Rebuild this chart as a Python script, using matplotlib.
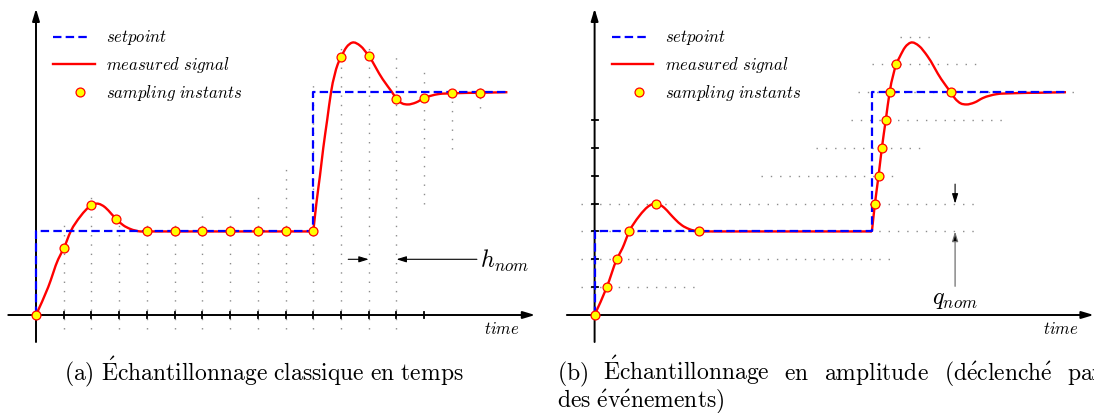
import numpy as np
import matplotlib
matplotlib.use('Agg')
import matplotlib.pyplot as plt
from matplotlib.path import Path
from matplotlib.patches import PathPatch

plt.rcParams['mathtext.fontset'] = 'cm'

W, H = 1094, 414
SX, SY = 27.73, 27.85      # pixels per time unit / per quantum

# consigne
setpoint_t = [0, 0, 10, 10, 17]
setpoint_v = [0, 3, 3, 8, 8]

# signal mesure : deux morceaux lisses raccordes au saut de consigne
rise1_t = [0, 0.44, 0.8, 1.0, 1.25, 1.6, 2.0, 2.2, 2.5, 2.72, 2.9, 3.15, 3.4, 3.76,
           4, 5, 6, 7, 8, 9, 10]
rise1_v = [0, 1, 2, 2.39, 3, 3.54, 3.94, 4.0, 3.86, 3.63, 3.44, 3.22, 3.09, 3.0,
           3, 3, 3, 3, 3, 3, 3]
rise2_t = [10, 10.11, 10.24, 10.36, 10.5, 10.64, 10.88, 11.0, 11.2, 11.4, 11.7,
           12.0, 12.5, 12.84, 13.0, 13.2, 13.4, 13.7, 14.0, 14.5, 15.0, 16.0, 17.0]
rise2_v = [3, 4, 5, 6, 7, 8, 9, 9.26, 9.62, 9.78, 9.66,
           9.3, 8.47, 8.0, 7.77, 7.6, 7.56, 7.63, 7.79, 7.93, 7.96, 7.98, 8.0]

# (a) echantillonnage periodique
samples_a_t = [0, 1, 2, 2.9, 4, 5, 6, 7, 8, 9, 10, 11, 12, 13, 14, 15, 16]
samples_a_v = [0, 2.39, 3.94, 3.44, 3, 3, 3, 3, 3, 3, 3, 9.26, 9.3, 7.77, 7.79, 7.96, 7.98]
ticks_a = list(range(1, 15))
grid_a_t = list(range(1, 17))
grid_a_top = [3.3, 4.3, 3.4, 3.3, 3.3, 3.7, 3.6, 4.3, 5.5, 8.35, 9.8, 9.8, 9.4, 8.8, 8.3, 8.3]
grid_a_bottom = [-0.5] * 13 + [4.0, 5.95, 7.45]

# (b) echantillonnage en amplitude
samples_b_t = [0, 0.44, 0.8, 1.25, 2.2, 3.76, 10.11, 10.24, 10.36, 10.5, 10.64, 10.88, 12.84]
samples_b_v = [0, 1, 2, 3, 4, 3, 4, 5, 6, 7, 8, 9, 8]
ticks_b = list(range(1, 8))
levels_b = list(range(1, 11))
level_start = [-0.5, -0.5, -0.5, -0.5, 6.0, 8.0, 9.25, 9.5, 10.0, 11.0]
level_end = [3.8, 10.8, 13.8, 13.8, 10.8, 11.85, 14.8, 17.3, 13.8, 12.35]

RED, BLUE, YELLOW = '#ff0000', '#0000ff', '#ffff00'
DOT = dict(color='#8c8c8c', lw=1.0, dashes=(1.0, 5.7), zorder=1)
MARK = dict(ms=6.4, mfc=YELLOW, mec=RED, mew=0.9)


def smooth_path(t, v):
    t = np.asarray(t, float)
    v = np.asarray(v, float)
    m = np.gradient(v, t)
    verts = [(t[0], v[0])]
    codes = [Path.MOVETO]
    for i in range(len(t) - 1):
        d = (t[i + 1] - t[i]) / 3
        verts += [(t[i] + d, v[i] + m[i] * d),
                  (t[i + 1] - d, v[i + 1] - m[i + 1] * d),
                  (t[i + 1], v[i + 1])]
        codes += [Path.CURVE4] * 3
    return Path(verts, codes)


def panel(fig, x0, y0=316, xlim=(-1.4, 18.4), ylim=(-1.3, 11.4)):
    left, right = x0 + xlim[0] * SX, x0 + xlim[1] * SX
    top, bottom = y0 - ylim[1] * SY, y0 - ylim[0] * SY
    ax = fig.add_axes([left / W, 1 - bottom / H, (right - left) / W, (bottom - top) / H])
    ax.set_xlim(xlim)
    ax.set_ylim(ylim)
    ax.axis('off')
    return ax


def arrow(ax, start, end, ms=12, hl=0.6, hw=0.18, lw=1.4, ec='black', fc='black'):
    ax.annotate('', xy=end, xytext=start, annotation_clip=False,
                arrowprops=dict(arrowstyle='-|>,head_length=%g,head_width=%g' % (hl, hw),
                                mutation_scale=ms, lw=lw, ec=ec, fc=fc,
                                shrinkA=0, shrinkB=0))


def draw_common(ax, samples_t, samples_v):
    arrow(ax, (-1.0, 0), (18.0, 0))
    arrow(ax, (0, -0.97), (0, 11.0))
    ax.add_patch(PathPatch(smooth_path(rise1_t, rise1_v), fill=False, ec=RED, lw=1.7, zorder=3))
    ax.add_patch(PathPatch(smooth_path(rise2_t, rise2_v), fill=False, ec=RED, lw=1.7, zorder=3))
    ax.plot(setpoint_t, setpoint_v, color=BLUE, lw=1.6, dashes=(3.8, 1.9), zorder=4)
    ax.plot(samples_t, samples_v, 'o', zorder=5, **MARK)

    # legende
    ax.plot([0.62, 1.9], [10, 10], color=BLUE, lw=1.6, dashes=(3.8, 1.9))
    ax.plot([0.62, 2.12], [9, 9], color=RED, lw=1.7)
    ax.plot([1.6], [8], 'o', **MARK)
    for row, label in zip([10, 9, 8], [r'$\mathit{setpoint}$', r'$\mathit{measured\ signal}$',
                                       r'$\mathit{sampling\ instants}$']):
        ax.text(2.53, row - 0.17, label, fontsize=12, va='baseline', ha='left')
    ax.text(16.8, -0.63, r'$\mathit{time}$', fontsize=12, va='baseline', ha='center')


fig = plt.figure(figsize=(W / 100, H / 100), dpi=100)

# (a)
ax = panel(fig, 36)
for t, lo, hi in zip(grid_a_t, grid_a_bottom, grid_a_top):
    ax.plot([t, t], [lo, hi], **DOT)
for t in ticks_a:
    ax.plot([t, t], [-0.11, 0.11], color='black', lw=1.3, zorder=2)
draw_common(ax, samples_a_t, samples_a_v)
arrow(ax, (11.26, 2), (12.0, 2), ms=10, hl=0.58, hw=0.18, lw=0.8)
arrow(ax, (15.9, 2), (13.0, 2), ms=10, hl=0.58, hw=0.18, lw=0.8)
ax.text(16.0, 1.72, r'$h_{nom}$', fontsize=17.5, ha='left', va='baseline')

# (b)
ax = panel(fig, 594.6)
for v, a, b in zip(levels_b, level_start, level_end):
    ax.plot([a, b], [v, v], **DOT)
for v in ticks_b:
    ax.plot([-0.11, 0.11], [v, v], color='black', lw=1.3, zorder=2)
draw_common(ax, samples_b_t, samples_b_v)
arrow(ax, (13.0, 4.7), (13.0, 4.0), ms=10, hl=0.58, hw=0.18, lw=0.8)
arrow(ax, (13.0, 1.03), (13.0, 3.0), ms=10, hl=0.58, hw=0.18, lw=0.9, ec='#707070')
ax.text(13.0, 0.43, r'$q_{nom}$', fontsize=17.5, ha='center', va='baseline')

# legendes des sous-figures
fig.text(264 / W, 1 - 380 / H, r'$\mathrm{(a)\ \acute{E}chantillonnage\ classique\ en\ temps}$',
         fontsize=17, ha='center', va='baseline')

words = [r'$\mathrm{(b)}$', r'$\mathrm{\acute{E}chantillonnage}$', r'$\mathrm{en}$',
         r'$\mathrm{amplitude}$', r'$\mathrm{(d\acute{e}clench\acute{e}}$', r'$\mathrm{par}$']
renderer = fig.canvas.get_renderer()
objs = [fig.text(0, 1 - 380 / H, w, fontsize=17, ha='left', va='baseline') for w in words]
widths = [o.get_window_extent(renderer).width for o in objs]
line_left, line_right = 557, 1103
gap = (line_right - line_left - sum(widths)) / (len(words) - 1)
x = line_left
for o, w in zip(objs, widths):
    o.set_x(x / W)
    x += w + gap
fig.text(557 / W, 1 - 407 / H, r'$\mathrm{des\ \acute{e}v\acute{e}nements)}$',
         fontsize=17, ha='left', va='baseline')

fig.savefig('out.png', dpi=100)
